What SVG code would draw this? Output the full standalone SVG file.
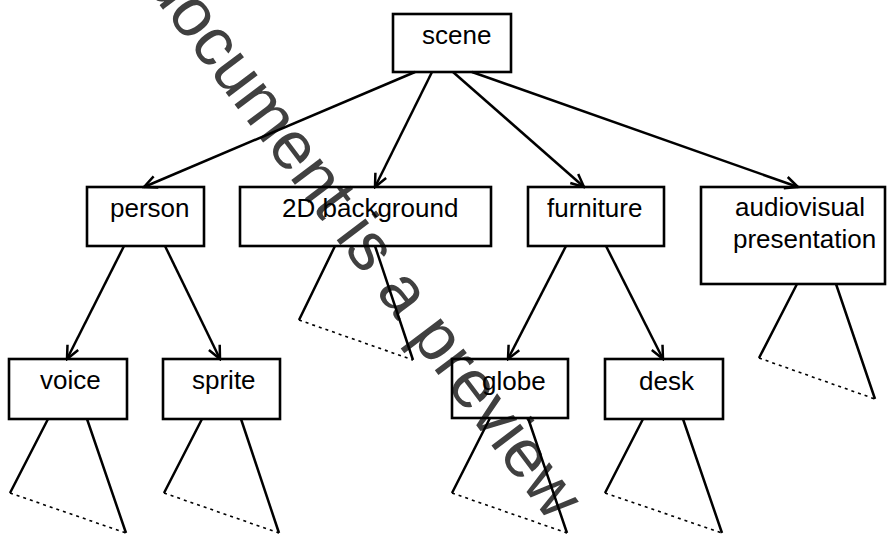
<svg xmlns="http://www.w3.org/2000/svg" width="887" height="536" viewBox="0 0 887 536">
<style>
.box{fill:none;stroke:#000;stroke-width:2.6}
.lbl{font-family:"Liberation Sans",Arial,sans-serif;font-size:26px;fill:#000}
.arr{fill:none;stroke:#000;stroke-width:2.5;marker-end:url(#ah)}
.ln{fill:none;stroke:#000;stroke-width:2.5}
.dot{fill:none;stroke:#000;stroke-width:1.6;stroke-dasharray:3 4}
.wm{font-family:"Liberation Sans",Arial,sans-serif;font-size:68px;fill:#404040}
</style>
<defs>
<marker id="ah" markerUnits="userSpaceOnUse" viewBox="-16 -8 18 16" markerWidth="18" markerHeight="16" refX="0" refY="0" orient="auto">
<path d="M-13,-6 L0,0 L-13,6" fill="none" stroke="#000" stroke-width="2.5"/>
</marker>
</defs>
<rect width="887" height="536" fill="#fff"/>
<text class="wm" transform="translate(143,-17) rotate(53)">document is a preview</text>
<g id="connectors">
<line class="arr" x1="415" y1="72" x2="144" y2="187"/>
<line class="arr" x1="432" y1="72" x2="375" y2="187"/>
<line class="arr" x1="453" y1="72" x2="584" y2="187"/>
<line class="arr" x1="472" y1="72" x2="798" y2="187"/>
<line class="arr" x1="124" y1="246" x2="67" y2="359"/>
<line class="arr" x1="165" y1="246" x2="220" y2="359"/>
<line class="arr" x1="566" y1="246" x2="508" y2="359"/>
<line class="arr" x1="606" y1="246" x2="663" y2="359"/>
</g>
<g id="subtrees">
<path class="ln" d="M335,246 L299,320 M375,246 L413,360"/><path class="dot" d="M299,320 L413,360"/>
<path class="ln" d="M48,419 L10,493 M87,419 L126,533"/><path class="dot" d="M10,493 L126,533"/>
<path class="ln" d="M202,419 L164,493 M241,419 L279,533"/><path class="dot" d="M164,493 L279,533"/>
<path class="ln" d="M490,418 L452,493 M528,418 L567,533"/><path class="dot" d="M452,493 L567,533"/>
<path class="ln" d="M643,419 L605,493 M683,419 L722,533"/><path class="dot" d="M605,493 L722,533"/>
<path class="ln" d="M797,284 L759,358 M836,284 L875,399"/><path class="dot" d="M759,358 L875,399"/>
</g>
<g id="scene"><rect class="box" x="393" y="14" width="118" height="58"/><text class="lbl" x="422" y="44">scene</text></g>
<g id="person"><rect class="box" x="87" y="187" width="117" height="59"/><text class="lbl" x="110" y="217">person</text></g>
<g id="background2d"><rect class="box" x="240" y="187" width="251" height="59"/><text class="lbl" x="282" y="217">2D background</text></g>
<g id="furniture"><rect class="box" x="528" y="187" width="136" height="59"/><text class="lbl" x="547" y="217">furniture</text></g>
<g id="audiovisual"><rect class="box" x="701" y="187" width="184" height="97"/><text class="lbl" x="735" y="216">audiovisual</text><text class="lbl" x="733" y="248">presentation</text></g>
<g id="voice"><rect class="box" x="9" y="359" width="118" height="60"/><text class="lbl" x="40" y="389">voice</text></g>
<g id="sprite"><rect class="box" x="163" y="359" width="117" height="60"/><text class="lbl" x="192" y="389">sprite</text></g>
<g id="globe"><rect class="box" x="452" y="359" width="116" height="59"/><text class="lbl" x="482" y="390">globe</text></g>
<g id="desk"><rect class="box" x="605" y="359" width="118" height="60"/><text class="lbl" x="639" y="390">desk</text></g>
</svg>
